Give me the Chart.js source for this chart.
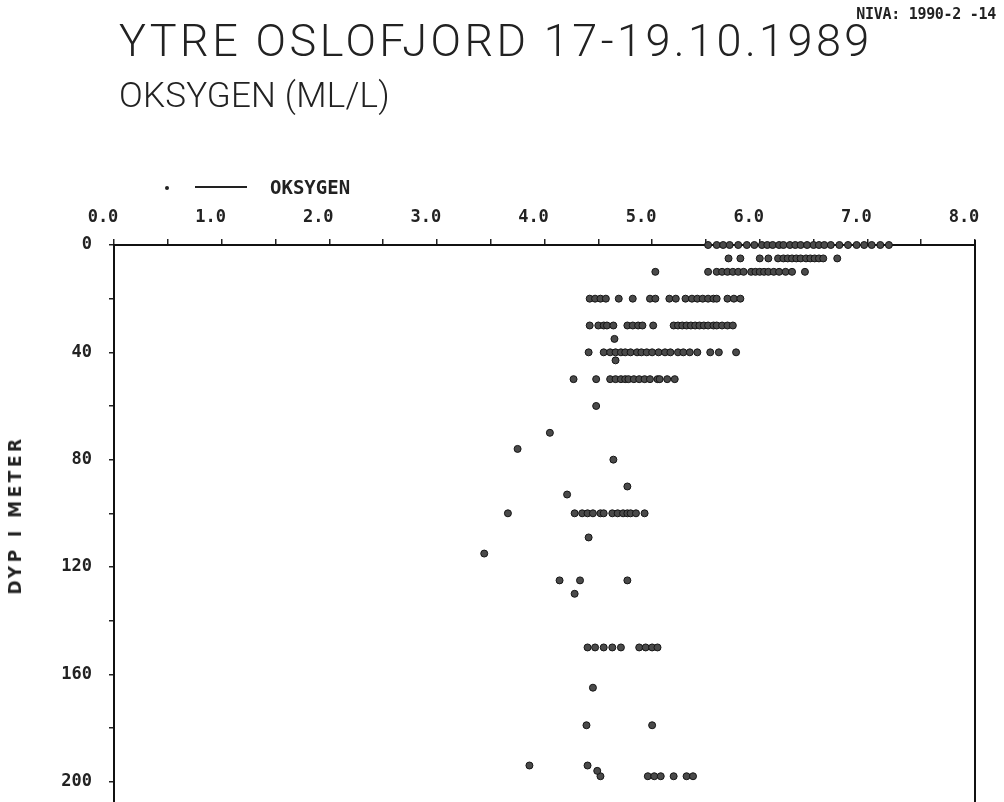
<!DOCTYPE html>
<html>
<head>
<meta charset="utf-8">
<script src="https://cdn.jsdelivr.net/npm/chart.js@4.4.0/dist/chart.umd.min.js"></script>
<style>
    body { margin: 0; background: #fff; overflow: hidden; }
    #wrap { position: relative; width: 1004px; height: 802px; overflow: hidden; }
    #chart { position: absolute; left: 0; top: 0; }
    .txt { position: absolute; color: #222; white-space: nowrap; }
    #niva { right: 8px; top: 5px; font: bold 15px 'DejaVu Sans Mono', monospace; letter-spacing: -0.3px; }
    #title { left: 119px; top: 18px; font: 300 45px 'Roboto', sans-serif; line-height: 45px; letter-spacing: 3.45px; }
    #subtitle { left: 119px; top: 78px; font: 300 35px 'Roboto', sans-serif; line-height: 35px; letter-spacing: 0.2px; }
    #legend { left: 160px; top: 176px; height: 22px; font: bold 19px 'DejaVu Sans Mono', monospace; line-height: 22px; }
    #legend .dot { position: absolute; left: 5px; top: 10px; width: 4px; height: 4px; border-radius: 50%; background: #222; }
    #legend .line { position: absolute; left: 35px; top: 10px; width: 52px; height: 2px; background: #222; }
    #legend .lab { position: absolute; left: 110px; top: 0; }
    #ytitle { left: 15px; top: 515px; transform: translate(-50%, -50%) rotate(-90deg); font: bold 17px 'DejaVu Sans', sans-serif; letter-spacing: 3.5px; }
</style>
</head>
<body>
<div id="wrap">
    <canvas id="chart" width="1004" height="841"></canvas>
    <div class="txt" id="niva">NIVA: 1990-2 -14</div>
    <div class="txt" id="title">YTRE OSLOFJORD 17-19.10.1989</div>
    <div class="txt" id="subtitle">OKSYGEN (ML/L)</div>
    <div class="txt" id="legend"><span class="dot"></span><span class="line"></span><span class="lab">OKSYGEN</span></div>
    <div class="txt" id="ytitle">DYP I METER</div>
</div>
<script>
// Depths (m) where a whole row of stations was sampled
var rowDepths = [0, 5, 10, 20, 30, 40, 50, 100, 150, 198];

// Oxygen (ml/l)
var oxy0 = [5.52, 5.60, 5.66, 5.72, 5.80, 5.88, 5.95, 6.02, 6.07, 6.12, 6.18, 6.22, 6.28, 6.33, 6.38, 6.44, 6.50, 6.55, 6.60, 6.66, 6.74, 6.82, 6.90, 6.97, 7.04, 7.12, 7.20];
var oxy5 = [5.71, 5.82, 6.00, 6.08, 6.17, 6.22, 6.26, 6.30, 6.34, 6.38, 6.43, 6.47, 6.51, 6.55, 6.59, 6.72];
var oxy10 = [5.03, 5.52, 5.60, 5.65, 5.70, 5.75, 5.80, 5.85, 5.92, 5.96, 6.00, 6.04, 6.08, 6.13, 6.18, 6.24, 6.30, 6.42];
var oxy20 = [4.42, 4.47, 4.52, 4.57, 4.69, 4.82, 4.98, 5.03, 5.16, 5.22, 5.31, 5.37, 5.42, 5.47, 5.52, 5.57, 5.60, 5.70, 5.76, 5.82];
var oxy30 = [4.42, 4.50, 4.55, 4.58, 4.64, 4.77, 4.82, 4.87, 4.91, 5.01, 5.20, 5.24, 5.28, 5.32, 5.36, 5.40, 5.44, 5.48, 5.52, 5.57, 5.60, 5.65, 5.70, 5.75];
var oxy40 = [4.41, 4.55, 4.61, 4.66, 4.71, 4.75, 4.80, 4.86, 4.90, 4.95, 5.00, 5.06, 5.12, 5.17, 5.24, 5.29, 5.35, 5.42, 5.54, 5.62, 5.78];
var oxy50 = [4.27, 4.48, 4.61, 4.66, 4.71, 4.75, 4.78, 4.83, 4.88, 4.93, 4.98, 5.05, 5.07, 5.14, 5.21];
var oxy100 = [3.66, 4.28, 4.35, 4.40, 4.45, 4.52, 4.55, 4.63, 4.68, 4.73, 4.77, 4.80, 4.85, 4.93];
var oxy150 = [4.40, 4.47, 4.55, 4.63, 4.71, 4.88, 4.94, 5.00, 5.05];
var oxy198 = [4.52, 4.96, 5.02, 5.08, 5.20, 5.32, 5.38];

// Scattered single samples
var singleDepth = [35, 43, 60, 70, 76, 80, 90, 93, 109, 115, 125, 125, 125, 130, 165, 179, 179, 194, 194, 196];
var singleOxy = [4.65, 4.66, 4.48, 4.05, 3.75, 4.64, 4.77, 4.21, 4.41, 3.44, 4.14, 4.33, 4.77, 4.28, 4.45, 4.39, 5.00, 3.86, 4.40, 4.49];

var rows = [oxy0, oxy5, oxy10, oxy20, oxy30, oxy40, oxy50, oxy100, oxy150, oxy198];
var points = [];
rows.forEach(function (row, i) {
    row.forEach(function (v) {
        points.push({ x: v, y: rowDepths[i] });
    });
});
singleOxy.forEach(function (v, i) {
    points.push({ x: v, y: singleDepth[i] });
});

var tickFont = { family: "'DejaVu Sans Mono', monospace", size: 17, weight: 'bold' };

// right hand frame line
var rightFrame = {
    id: 'rightFrame',
    afterDraw: function (chart) {
        var a = chart.chartArea, c = chart.ctx;
        c.save();
        c.strokeStyle = '#111';
        c.lineWidth = 2;
        c.beginPath();
        c.moveTo(a.right, a.top - 5);
        c.lineTo(a.right, a.bottom);
        c.stroke();
        c.restore();
    }
};

var ctx = document.getElementById('chart').getContext('2d');
var chart = new Chart(ctx, {
    type: 'scatter',
    data: {
        datasets: [{
            label: 'OKSYGEN',
            data: points,
            pointRadius: 3.5,
            pointBackgroundColor: '#4a4a4a',
            pointBorderColor: '#151515',
            pointBorderWidth: 1,
            clip: false
        }]
    },
    options: {
        responsive: false,
        animation: false,
        layout: { padding: { left: 0, right: 29, top: 0, bottom: 6 } },
        plugins: {
            legend: { display: false },
            tooltip: { enabled: false }
        },
        scales: {
            x: {
                type: 'linear',
                position: 'top',
                min: 0,
                max: 8,
                afterFit: function (s) { s.height = 245; },
                border: { display: true, color: '#111', width: 2 },
                grid: { drawOnChartArea: false, drawTicks: true, tickLength: 6, color: '#222', lineWidth: 1.5 },
                ticks: {
                    stepSize: 0.5,
                    autoSkip: false,
                    maxRotation: 0,
                    labelOffset: -11,
                    padding: 11,
                    color: '#222',
                    font: tickFont,
                    callback: function (v) { return v % 1 === 0 ? v.toFixed(1) : ''; }
                }
            },
            y: {
                type: 'linear',
                reverse: true,
                min: 0,
                max: 212,
                afterFit: function (s) { s.width = 114; },
                border: { display: true, color: '#111', width: 2 },
                grid: { drawOnChartArea: false, drawTicks: true, tickLength: 5, color: '#222', lineWidth: 1.5 },
                ticks: {
                    stepSize: 20,
                    includeBounds: false,
                    autoSkip: false,
                    padding: 17,
                    color: '#222',
                    font: tickFont,
                    callback: function (v) { return v % 40 === 0 ? String(v) : ''; }
                }
            }
        }
    },
    plugins: [rightFrame]
});
</script>
</body>
</html>
